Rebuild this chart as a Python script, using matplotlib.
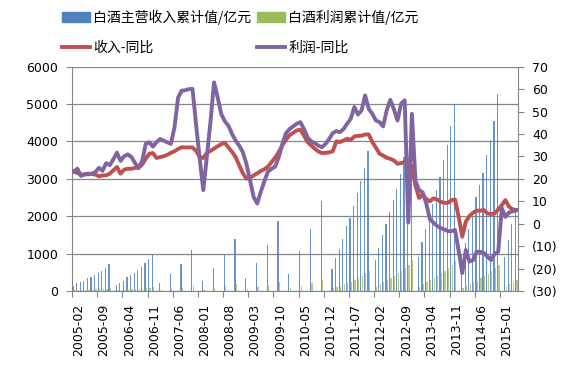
import matplotlib.pyplot as plt
import numpy as np
import pandas as pd
from matplotlib.patches import Patch
from matplotlib.lines import Line2D

plt.rcParams['font.family'] = ['DejaVu Sans', 'Noto Sans CJK SC']

nan = np.nan

# monthly categories 2005-02 .. 2015-05
months = pd.period_range('2005-02', '2015-05', freq='M').strftime('%Y-%m').tolist()

# 白酒主营收入累计值 (亿元)
revenue = [
    142, 205, 231, 267, 338, 382, 418, 489, 542, 613, 720,                  # 2005 Feb-Dec
    nan, 160, 222, 276, 364, 418, 471, 560, 649, 738, 844, 960,             # 2006
    nan, 205, nan, nan, 453, nan, nan, 711, nan, nan, 1093, nan,            # 2007
    nan, 267, nan, nan, 622, nan, nan, 960, nan, nan, 1404, nan,            # 2008
    nan, 338, nan, nan, 738, nan, nan, 1227, nan, nan, 1867, nan,           # 2009
    nan, 460, nan, nan, 1067, nan, nan, 1671, nan, nan, 2409, nan,          # 2010
    nan, 587, 871, 1120, 1404, 1742, 1964, 2276, 2631, 2942, 3298, 3742,    # 2011
    nan, 827, 1156, 1493, 1804, 2116, 2427, 2738, 3138, 3582, 3982, 4460,   # 2012
    nan, 915, 1316, 1671, 1982, 2338, 2693, 3049, 3493, 3893, 4427, 5004,   # 2013
    nan, 980, 1289, 1671, 1982, 2516, 2827, 3164, 3627, 4027, 4560, 5271,   # 2014
    nan, 915, 1360, 1804, 2160,                                             # 2015 Jan-May
]

# 白酒利润累计值 (亿元)
profit = [
    14, 20, 23, 27, 34, 38, 42, 49, 54, 61, 72,
    nan, 16, 22, 28, 36, 42, 47, 56, 65, 74, 84, 100,
    nan, 25, nan, nan, 55, nan, nan, 90, nan, nan, 140, nan,
    nan, 35, nan, nan, 85, nan, nan, 130, nan, nan, 190, nan,
    nan, 45, nan, nan, 100, nan, nan, 165, nan, nan, 230, nan,
    nan, 71, nan, nan, 142, nan, nan, 222, nan, nan, 293, nan,
    nan, 71, 107, 142, 178, 204, 249, 293, 356, 409, 471, 542,
    nan, 116, 178, 231, 284, 338, 409, 471, 533, 604, 693, 827,
    nan, 116, 178, 231, 284, 338, 400, 471, 533, 604, 693, 800,
    nan, 89, 142, 187, 231, 276, 338, 400, 462, 533, 604, 693,
    nan, 116, 178, 231, 293,
]

# 收入-同比 (%)
revenue_yoy = [
    23.3, 22.6, 21.9, 22.0, 22.3, 22.2, 21.9, 21.1, 21.5, 21.6, 22.3,
    23.8, 25.3, 22.3, 24.1, 24.5, 24.5, 24.9, 24.9, 26.4, 29.0, 31.2, 31.5,
    29.3, 29.7, 30.1, 30.7, 31.6, 32.3, 33.3, 34.1, 34.0, 34.0, 34.0, 32.5,
    29.8, 29.3, 31.5, 32.5, 33.5, 34.5, 35.5, 36.0, 34.0, 32.0, 29.7, 26.0,
    22.5, 20.1, 20.5, 21.5, 22.5, 23.5, 24.3, 25.5, 27.5, 29.5, 32.0, 35.0,
    37.5, 39.5, 40.5, 41.6, 41.9, 39.3, 36.4, 34.9, 33.4, 32.2, 31.5, 31.6,
    31.8, 32.3, 36.7, 36.4, 37.1, 37.9, 37.4, 38.9, 39.2, 39.2, 39.8, 39.8,
    36.4, 33.9, 31.2, 30.4, 29.4, 28.9, 28.2, 26.7, 27.0, 27.5, 27.6, 25.5,
    17.0, 11.5, 13.0, 11.0, 10.0, 11.3, 10.8, 9.8, 9.3, 9.3, 10.5, 10.8,
    3.1, -5.8, 0.9, 3.4, 4.9, 5.8, 5.8, 6.1, 4.6, 4.3, 4.6, 6.4,
    8.3, 10.5, 7.6, 6.4, 6.1,
]

# 利润-同比 (%)
profit_yoy = [
    23.3, 24.5, 21.3, 22.0, 22.0, 22.3, 23.0, 24.9, 23.6, 27.0, 26.1,
    28.7, 31.7, 28.0, 30.1, 30.9, 29.8, 27.1, 24.9, 27.9, 35.6, 36.3, 34.4,
    36.3, 37.8, 37.0, 36.3, 35.6, 43.0, 56.3, 59.3, 59.5, 60.0, 60.1, 44.2,
    29.0, 15.0, 30.0, 45.4, 63.0, 56.3, 48.9, 45.6, 43.7, 40.0, 37.0, 34.8,
    31.9, 26.7, 19.3, 11.9, 9.0, 14.3, 19.0, 23.3, 24.5, 25.5, 29.7, 35.6,
    40.4, 42.2, 43.4, 44.6, 45.3, 42.2, 38.5, 36.7, 35.9, 34.8, 34.1, 35.6,
    37.8, 40.4, 41.3, 40.8, 42.2, 44.6, 46.8, 52.0, 48.7, 50.5, 57.2, 51.2,
    49.0, 46.0, 45.3, 43.4, 50.5, 55.2, 51.0, 46.0, 53.5, 55.0, 0.5, 49.0,
    19.0, 15.0, 14.0, 9.0, 2.0, 0.5, -1.0, -2.0, -2.5, -3.3, -3.3, -2.8,
    -12.0, -22.0, -11.7, -16.9, -16.2, -12.5, -12.5, -13.0, -14.7, -16.2, -13.5, -12.5,
    7.0, 3.0, 5.0, 5.5, 6.0,
]

n = len(months)
x = np.arange(n)
grey = '#868686'

fig = plt.figure(figsize=(5.78, 3.68), dpi=100)
ax = fig.add_axes([72 / 578, 1 - 291 / 368, (518 - 72) / 578, (291 - 66.7) / 368])

# thin, light bars like the original
ax.bar(x - 0.2, revenue, width=0.34, color='#4F81BD', alpha=0.85, linewidth=0)
ax.bar(x + 0.2, profit, width=0.34, color='#9BBB59', alpha=0.75, linewidth=0)
ax.set_xlim(-0.5, n - 0.5)
ax.set_ylim(0, 6000)
ax.set_yticks(range(0, 6001, 1000))
ax.yaxis.grid(True, color=grey, lw=0.9)
ax.set_axisbelow(True)
for s in ['top', 'right']:
    ax.spines[s].set_visible(False)
for s in ['left', 'bottom']:
    ax.spines[s].set_color(grey)
ax.tick_params(axis='y', colors=grey, labelcolor='black', labelsize=9, length=4, pad=6)

# tick marks between categories, labels every 7 months
ax.set_xticks(np.arange(0, n, 7) - 0.5)
ax.set_xticklabels([])
ax.tick_params(axis='x', which='major', colors=grey, length=4)
ax.set_xticks(np.arange(0, n, 7) + 1.4, minor=True)
ax.set_xticklabels(months[::7], minor=True, rotation=90, fontsize=9)
ax.tick_params(axis='x', which='minor', length=0, pad=9)

ax2 = ax.twinx()
ax2.plot(x, revenue_yoy, color='#C0504D', lw=2.8, solid_joinstyle='round')
ax2.plot(x, profit_yoy, color='#8064A2', lw=2.8, solid_joinstyle='round')
ax2.set_ylim(-30, 70)
ax2.set_yticks(range(-30, 71, 10))
ax2.set_yticklabels([f'({abs(v)})' if v < 0 else str(v) for v in range(-30, 71, 10)])
for s in ['top', 'left', 'bottom']:
    ax2.spines[s].set_visible(False)
ax2.spines['right'].set_color(grey)
ax2.tick_params(axis='y', colors=grey, labelcolor='black', labelsize=9, length=4, pad=6)

handles = [
    Patch(color='#4F81BD'),
    Line2D([], [], color='#C0504D', lw=2.8),
    Patch(color='#9BBB59'),
    Line2D([], [], color='#8064A2', lw=2.8),
]
labels = ['白酒主营收入累计值/亿元', '收入-同比', '白酒利润累计值/亿元', '利润-同比']
fig.legend(handles, labels, ncol=2, loc='upper left',
           bbox_to_anchor=(62 / 578, 1 - 10 / 368), frameon=False,
           prop={'family': ['Noto Sans CJK SC', 'DejaVu Sans'], 'size': 10},
           handlelength=2.0, handletextpad=0.25, columnspacing=0.4,
           labelspacing=1.15, borderpad=0, borderaxespad=0)

fig.savefig('out.png', dpi=100)
